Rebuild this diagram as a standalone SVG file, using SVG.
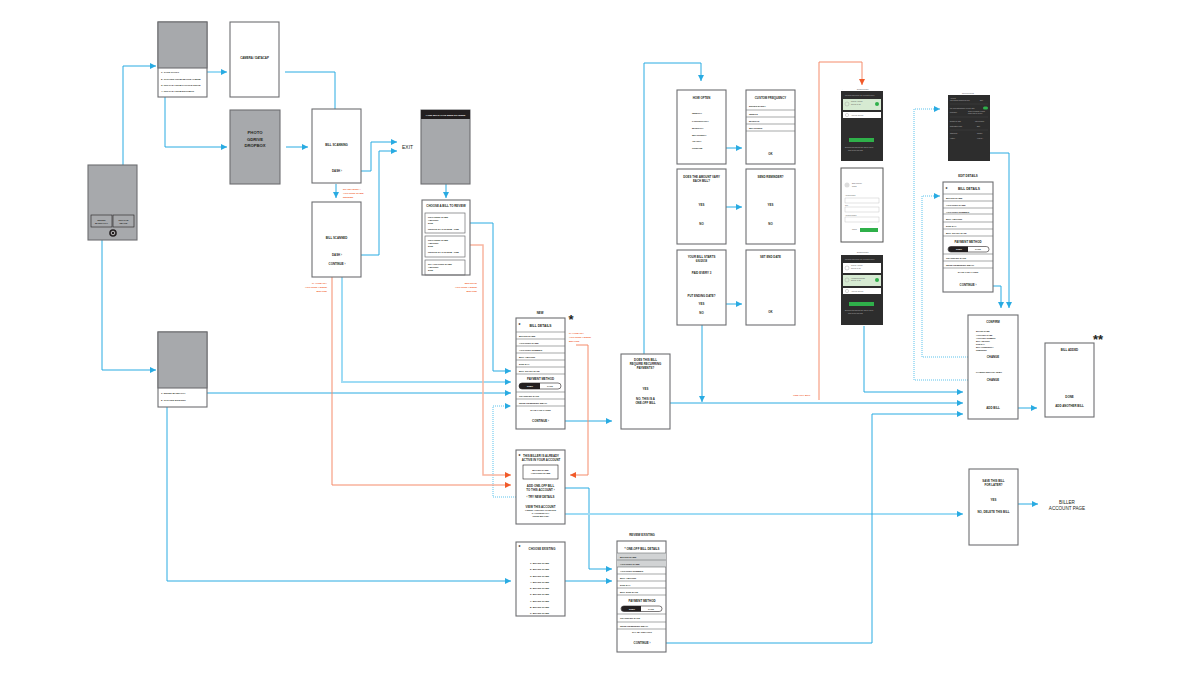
<svg xmlns="http://www.w3.org/2000/svg" width="1200" height="674" viewBox="0 0 1200 674">
<defs>
<style>
.box{fill:#fff;stroke:#6d6e71;stroke-width:1.1}
.gbox{fill:#a7a9ac;stroke:#6d6e71;stroke-width:1.1}
.row{stroke:#6d6e71;stroke-width:0.6}
.t{font-family:"Liberation Sans",Arial,sans-serif;font-weight:bold;fill:#231f20}
.r{font-family:"Liberation Sans",Arial,sans-serif;fill:#231f20}
.c{text-anchor:middle}
.e{text-anchor:end}
.s2{font-size:2.4px}
.s3{font-size:2.9px}
.s4{font-size:3.3px}
.ast{font-family:"Liberation Sans",Arial,sans-serif;font-weight:bold;fill:#231f20;font-size:5px}
.on{fill:#f15a29;font-family:"Liberation Sans",Arial,sans-serif;font-weight:bold;font-size:2.5px}
.ln{fill:none;stroke:#29abe2;stroke-width:1}
.lt{fill:none;stroke:#9fdcf5;stroke-width:2}
.dot{fill:none;stroke:#5cc3ec;stroke-width:1;stroke-dasharray:1 1}
.or{fill:none;stroke:#f58b6a;stroke-width:1}
.orl{fill:none;stroke:#f9b5a0;stroke-width:1.5}
.dk{fill:#2d2d2d}
.gc{fill:#d6ead2}
.gb{fill:#2fb04a}
.wt{fill:#fff}
.st{font-family:"Liberation Sans",Arial,sans-serif;font-size:1.6px;fill:#bbb}
.sd{font-family:"Liberation Sans",Arial,sans-serif;font-size:1.6px;fill:#555}
</style>
<marker id="ab" markerUnits="userSpaceOnUse" markerWidth="6" markerHeight="6" refX="6" refY="3" orient="auto"><path d="M0,0 L6,3 L0,6 z" fill="#29abe2"/></marker>
<marker id="ao" markerUnits="userSpaceOnUse" markerWidth="6" markerHeight="6" refX="6" refY="3" orient="auto"><path d="M0,0 L6,3 L0,6 z" fill="#f15a29"/></marker>
</defs>
<rect width="1200" height="674" fill="#fff"/>

<!-- connectors -->
<g id="connectors">
<path class="ln" d="M123,212 V66 H156" marker-end="url(#ab)"/>
<path class="ln" d="M102,240 V370 H156" marker-end="url(#ab)"/>
<path class="lt" d="M189,72 H227" marker-end="url(#ab)"/>
<path class="ln" d="M165,97 V147 H227" marker-end="url(#ab)"/>
<path class="ln" d="M285,72 H335 V117" marker-end="url(#ab)"/>
<path class="ln" d="M286,147 H308" marker-end="url(#ab)"/>
<path class="ln" d="M336,184 V198" marker-end="url(#ab)"/>
<path class="ln" d="M348,171 H371 V142 H397" marker-end="url(#ab)"/>
<path class="ln" d="M348,255 H379 V151 H397" marker-end="url(#ab)"/>
<path class="ln" d="M446,119 V198" marker-end="url(#ab)"/>
<path class="ln" d="M459,223 H493 V371 H511" marker-end="url(#ab)"/>
<path class="lt" d="M342,268 V382 H511" marker-end="url(#ab)"/>
<path class="ln" d="M195,393 H511" marker-end="url(#ab)"/>
<path class="ln" d="M167,407 V581 H511" marker-end="url(#ab)"/>
<path class="dot" d="M520,497 H493 V406 H511" marker-end="url(#ab)"/>
<path class="ln" d="M557,421 H612" marker-end="url(#ab)"/>
<path class="ln" d="M561,488 H589 V569 H612" marker-end="url(#ab)"/>
<path class="lt" d="M561,514 H963" marker-end="url(#ab)"/>
<path class="ln" d="M554,581 H612" marker-end="url(#ab)"/>
<path class="ln" d="M644,385 V63 H701 V81" marker-end="url(#ab)"/>
<path class="ln" d="M659,403 H963" marker-end="url(#ab)"/>
<path class="ln" d="M702,318 V402" marker-end="url(#ab)"/>
<path class="ln" d="M708,148 H742" marker-end="url(#ab)"/>
<path class="ln" d="M708,207 H742" marker-end="url(#ab)"/>
<path class="ln" d="M708,304 H742" marker-end="url(#ab)"/>
<path class="ln" d="M663,643 H872 V414 H963" marker-end="url(#ab)"/>
<path class="ln" d="M864,326 V392 H963" marker-end="url(#ab)"/>
<path class="ln" d="M990,153 H1009 V308" marker-end="url(#ab)"/>
<path class="ln" d="M985,286 H1001 V308" marker-end="url(#ab)"/>
<path class="ln" d="M1010,408 H1037" marker-end="url(#ab)"/>
<path class="ln" d="M1013,504 H1038" marker-end="url(#ab)"/>
<path class="dot" d="M980,357 H922 V196 H940" marker-end="url(#ab)"/>
<path class="dot" d="M980,380 H914 V109 H940" marker-end="url(#ab)"/>
<path class="or" d="M332,268 V485 H511" marker-end="url(#ao)"/>
<path class="orl" d="M459,245 H483 V475 H511" marker-end="url(#ao)"/>
<path class="or" d="M576,345 H588 V475 H570" marker-end="url(#ao)"/>
<path class="or" d="M819,400 V62 H862 V85" marker-end="url(#ao)"/>
</g>

<!-- entry screen -->
<g id="entry">
<rect class="gbox" x="88" y="165" width="49" height="75"/>
<rect x="91" y="215" width="21" height="12" fill="#a7a9ac" stroke="#231f20" stroke-width="0.6"/>
<rect x="113" y="215" width="21" height="12" fill="#a7a9ac" stroke="#231f20" stroke-width="0.6"/>
<text class="t s2 c" x="101.5" y="220.5">ENTER</text>
<text class="t s2 c" x="101.5" y="224">MANUALLY</text>
<text class="t s2 c" x="123.5" y="220.5">UPLOAD</text>
<text class="t s2 c" x="123.5" y="224">IMAGE</text>
<circle cx="113" cy="233" r="3.8" fill="#231f20"/>
<circle cx="113" cy="233" r="1.8" fill="none" stroke="#fff" stroke-width="0.7"/>
</g>

<!-- upload options -->
<g id="upload-menu">
<rect class="box" x="158" y="22" width="49" height="75"/>
<rect class="gbox" x="158" y="22" width="49" height="46"/>
<text class="t s2" x="161" y="73">1. TAKE PHOTO</text>
<text class="t s2" x="161" y="80">2. CHOOSE FROM DEVICE ALBUM</text>
<text class="t s2" x="161" y="86">3. UPLOAD FROM GOOGLE DRIVE</text>
<text class="t s2" x="161" y="92">4. UPLOAD FROM DROPBOX</text>
</g>

<g id="camera">
<rect class="box" x="230" y="22" width="49" height="75"/>
<text class="t s3 c" x="254.5" y="59">CAMERA / DATACAP</text>
</g>

<g id="photo-source">
<rect class="gbox" x="230" y="110" width="50" height="74"/>
<text class="t c" font-size="4.2" x="255" y="134">PHOTO</text>
<text class="t c" font-size="4.2" x="255" y="140.5">GDRIVE</text>
<text class="t c" font-size="4.2" x="255" y="147">DROPBOX</text>
</g>

<g id="bill-scanning">
<rect class="box" x="312" y="109" width="49" height="74"/>
<text class="t s3 c" x="336.5" y="146">BILL SCANNING</text>
<text class="t s3 c" x="337" y="172">DASH ›</text>
<text class="on" x="343" y="189.5">NO READING /</text>
<text class="on" x="343" y="193.5">ACCOUNT NAME</text>
<text class="on" x="343" y="197.5">NEEDED</text>
</g>

<g id="bill-scanned">
<rect class="box" x="312" y="202" width="49" height="75"/>
<text class="t s3 c" x="336.5" y="239">BILL SCANNED</text>
<text class="t s3 c" x="337" y="256">DASH ›</text>
<text class="t s3 c" x="337" y="265">CONTINUE ›</text>
<text class="on e" x="327" y="283.5">IF ALREADY</text>
<text class="on e" x="327" y="287.5">ACCOUNT ADDED</text>
<text class="on e" x="327" y="291.5">BEFORE</text>
</g>

<g id="exit">
<text class="r" font-size="5" x="402" y="149">EXIT</text>
</g>

<g id="scan-result">
<rect class="gbox" x="421" y="110" width="49" height="74"/>
<rect x="421" y="110" width="49" height="9" fill="#231f20"/>
<text class="t c" font-size="2.3" style="fill:#fff" x="445.5" y="115.8">YOUR BILLS HAVE BEEN SCANNED</text>
</g>

<g id="choose-bill">
<rect class="box" x="422" y="200" width="48" height="75"/>
<text class="t s3 c" x="446" y="206.5">CHOOSE A BILL TO REVIEW</text>
<rect x="425" y="213" width="40" height="20" fill="none" stroke="#6d6e71" stroke-width="0.7"/>
<text class="t s2" x="428" y="217.5">PROVIDER NAME</text>
<text class="t s2" x="428" y="220.5">AMOUNT</text>
<text class="t s2" x="428" y="223.5">DUE</text>
<text class="t s2" x="428" y="229.5">PERIOD 01 JAN 2018 - FEB</text>
<rect x="425" y="236" width="40" height="21" fill="none" stroke="#6d6e71" stroke-width="0.7"/>
<text class="t s2" x="428" y="240.5">PROVIDER NAME</text>
<text class="t s2" x="428" y="243.5">AMOUNT</text>
<text class="t s2" x="428" y="246.5">DUE</text>
<text class="t s2" x="428" y="253">PERIOD 01 JAN 2018 - FEB</text>
<rect x="425" y="260" width="40" height="15" fill="none" stroke="#6d6e71" stroke-width="0.7"/>
<text class="t s2" x="428" y="264.5">NO ACCOUNT NAME</text>
<text class="t s2" x="428" y="267.5">AMOUNT</text>
<text class="t s2" x="428" y="271">DUE</text>
<text class="on e" x="477" y="283.5">MULTIPLE</text>
<text class="on e" x="477" y="287.5">ACCOUNT ADDED</text>
<text class="on e" x="477" y="291.5">BEFORE</text>
</g>

<g id="manual-menu">
<rect class="box" x="158" y="332" width="49" height="75"/>
<rect class="gbox" x="158" y="332" width="49" height="56"/>
<text class="t s2" x="161" y="394">1. ENTER MANUALLY</text>
<text class="t s2" x="161" y="401">2. CHOOSE EXISTING</text>
</g>

<!-- new bill details -->
<g id="new-bill">
<text class="t s3 c" x="540" y="314">NEW</text>
<text class="t c" font-size="13" x="571" y="324">*</text>
<rect class="box" x="516" y="318" width="49" height="111"/>
<text class="ast" x="518.5" y="327">*</text>
<text class="t s4 c" x="540.5" y="326.5">BILL DETAILS</text>
<path class="row" d="M516,332H565 M516,339H565 M516,346H565 M516,353H565 M516,360H565 M516,367H565 M516,374H565 M516,392H565 M516,399H565 M516,406H565"/>
<text class="t s2" x="519" y="337">BILLER NAME</text>
<text class="t s2" x="519" y="344">ACCOUNT NAME</text>
<text class="t s2" x="519" y="351">ACCOUNT NUMBER</text>
<text class="t s2" x="519" y="358">BILL AMOUNT</text>
<text class="t s2" x="519" y="365">DUE DAY</text>
<text class="t s2" x="519" y="372">BILL START DATE</text>
<text class="t s3 c" x="540.5" y="379.5">PAYMENT METHOD</text>
<rect x="519" y="383" width="42" height="6" rx="3" fill="#fff" stroke="#231f20" stroke-width="0.6"/>
<path d="M522,383 H540 V389 H522 A3,3 0 0 1 522,383 z" fill="#231f20"/>
<text class="t c" font-size="2" style="fill:#fff" x="530" y="386.8">DEBIT</text>
<text class="t c" font-size="2" x="550" y="386.8">CARD</text>
<text class="t s2" x="519" y="397">TRANSFER DATE</text>
<text class="t s2" x="519" y="404">SEND REMINDER EMAIL</text>
<text class="t s2 c" x="540.5" y="410.5">SAVE FOR LATER</text>
<text class="t s3 c" x="540.5" y="422">CONTINUE ›</text>
<text class="on" x="569" y="334">IF ALREADY</text>
<text class="on" x="569" y="338">ACCOUNT ADDED</text>
<text class="on" x="569" y="342">BEFORE</text>
</g>

<g id="biller-active">
<rect class="box" x="516" y="450" width="49" height="74"/>
<text class="ast" x="518.5" y="458">*</text>
<text class="t s3 c" x="541" y="457">THIS BILLER IS ALREADY</text>
<text class="t s3 c" x="541" y="461">ACTIVE IN YOUR ACCOUNT</text>
<rect x="523" y="465" width="35" height="14" fill="none" stroke="#231f20" stroke-width="0.6"/>
<text class="t s2 c" x="540.5" y="471">BILLER NAME</text>
<text class="t s2 c" x="540.5" y="474">ACCOUNT NAME</text>
<text class="t s3 c" x="540.5" y="486.5">ADD ONE-OFF BILL</text>
<text class="t s3 c" x="540.5" y="491">TO THIS ACCOUNT ›</text>
<text class="t s3 c" x="540.5" y="498">‹ TRY NEW DETAILS</text>
<text class="t s3 c" x="540.5" y="507.5">VIEW THIS ACCOUNT</text>
<text class="t c" font-size="2" x="540.5" y="511.2">(AMEND A SETTING OR DELETE</text>
<text class="t c" font-size="2" x="540.5" y="514">IF ACCIDENTALLY</text>
<text class="t c" font-size="2" x="540.5" y="516.8">ADDED BEFORE)</text>
</g>

<g id="choose-existing">
<rect class="box" x="516" y="542" width="49" height="74"/>
<text class="ast" x="518.5" y="549">*</text>
<text class="t s3 c" x="542" y="549.5">CHOOSE EXISTING</text>
<text class="t s2" x="530" y="564">1. BILLER NAME</text>
<text class="t s2" x="530" y="570">2. BILLER NAME</text>
<text class="t s2" x="530" y="576.5">3. BILLER NAME</text>
<text class="t s2" x="530" y="582.5">4. BILLER NAME</text>
<text class="t s2" x="530" y="588.5">5. BILLER NAME</text>
<text class="t s2" x="530" y="595">6. BILLER NAME</text>
<text class="t s2" x="530" y="601.5">7. BILLER NAME</text>
<text class="t s2" x="530" y="607.5">8. BILLER NAME</text>
<text class="t s2" x="530" y="614">9. BILLER NAME</text>
</g>

<g id="review-existing">
<text class="t s3 c" x="642" y="535.5">REVIEW EXISTING</text>
<rect class="box" x="617" y="541" width="49" height="111"/>
<text class="t s3 c" x="642" y="549.5">* ONE-OFF BILL DETAILS</text>
<rect x="617" y="553" width="49" height="14" fill="#d1d3d4"/>
<path class="row" d="M617,553H666 M617,560H666 M617,567H666 M617,574H666 M617,581H666 M617,588H666 M617,595H666 M617,614H666 M617,622H666 M617,629H666"/>
<text class="t s2" x="620" y="558">BILLER NAME</text>
<text class="t s2" x="620" y="565">ACCOUNT NAME</text>
<text class="t s2" x="620" y="572">ACCOUNT NUMBER</text>
<text class="t s2" x="620" y="579">BILL AMOUNT</text>
<text class="t s2" x="620" y="586">DUE DAY</text>
<text class="t s2" x="620" y="593">BILL DUE DATE</text>
<text class="t s3 c" x="642" y="601.5">PAYMENT METHOD</text>
<rect x="621" y="606" width="41" height="5.5" rx="2.75" fill="#fff" stroke="#231f20" stroke-width="0.6"/>
<path d="M624,606 H641 V611.5 H624 A2.75,2.75 0 0 1 624,606 z" fill="#231f20"/>
<text class="t c" font-size="2" style="fill:#fff" x="632" y="609.5">DEBIT</text>
<text class="t c" font-size="2" x="651" y="609.5">CARD</text>
<text class="t s2" x="620" y="619">TRANSFER DATE</text>
<text class="t s2" x="620" y="626.5">SEND REMINDER EMAIL</text>
<text class="t s2 c" x="642" y="633">SAY BY DEFAULT</text>
<text class="t s3 c" x="642" y="644">CONTINUE ›</text>
</g>

<g id="recurring">
<rect class="box" x="621" y="354" width="49" height="75"/>
<text class="t s3 c" x="645.5" y="361">DOES THIS BILL</text>
<text class="t s3 c" x="645.5" y="365">REQUIRE RECURRING</text>
<text class="t s3 c" x="645.5" y="369">PAYMENTS?</text>
<text class="t s3 c" x="645.5" y="389.5">YES</text>
<text class="t s3 c" x="645.5" y="399.5">NO, THIS IS A</text>
<text class="t s3 c" x="645.5" y="404">ONE-OFF BILL</text>
</g>

<g id="how-often">
<rect class="box" x="677" y="90" width="49" height="74"/>
<text class="t s3 c" x="701.5" y="99">HOW OFTEN</text>
<text class="t s2" x="692" y="114">WEEKLY</text>
<text class="t s2" x="692" y="121.5">FORTNIGHTLY</text>
<text class="t s2" x="692" y="128.5">MONTHLY</text>
<text class="t s2" x="692" y="135.5">QUARTERLY</text>
<text class="t s2" x="692" y="142">YEARLY</text>
<text class="t s2" x="692" y="149">CUSTOM</text>
</g>

<g id="custom-frequency">
<rect class="box" x="746" y="90" width="49" height="74"/>
<text class="t s3 c" x="770.5" y="99">CUSTOM FREQUENCY</text>
<text class="t s2" x="749" y="106.5">ENTER EVERY</text>
<path class="row" d="M746,110H795 M746,117H795 M746,124H795 M746,131H795"/>
<text class="t s2" x="749" y="114.5">WEEKS</text>
<text class="t s2" x="749" y="121.5">MONTHS</text>
<text class="t s2" x="749" y="128.5">QUARTERS</text>
<text class="t s3 c" x="770.5" y="155">OK</text>
</g>

<g id="amount-vary">
<rect class="box" x="677" y="169" width="49" height="75"/>
<text class="t s3 c" x="701.5" y="177.5">DOES THE AMOUNT VARY</text>
<text class="t s3 c" x="701.5" y="181.5">EACH BILL?</text>
<text class="t s3 c" x="701.5" y="206">YES</text>
<text class="t s3 c" x="701.5" y="225">NO</text>
</g>

<g id="send-reminder">
<rect class="box" x="746" y="169" width="49" height="75"/>
<text class="t s3 c" x="770.5" y="178">SEND REMINDER?</text>
<text class="t s3 c" x="770.5" y="206">YES</text>
<text class="t s3 c" x="770.5" y="225">NO</text>
</g>

<g id="bill-start">
<rect class="box" x="677" y="250" width="49" height="75"/>
<text class="t s3 c" x="701.5" y="258">YOUR BILL STARTS</text>
<text class="t s3 c" x="701.5" y="262">6/6/2018</text>
<text class="t s3 c" x="701.5" y="274">PAID EVERY 3</text>
<text class="t s3 c" x="701.5" y="297">PUT ENDING DATE?</text>
<text class="t s3 c" x="701.5" y="305">YES</text>
<text class="t s3 c" x="701.5" y="314">NO</text>
</g>

<g id="set-end-date">
<rect class="box" x="746" y="250" width="49" height="75"/>
<text class="t s3 c" x="770.5" y="258">SET END DATE</text>
<text class="t s3 c" x="770.5" y="313">OK</text>
</g>

<g id="one-off-note">
<text class="on" x="793" y="396">ONE-OFF BILL</text>
</g>

<!-- payment method screens -->
<g id="method-screen-1">
<text class="sd" x="842" y="89.5">‹</text>
<text class="sd" x="857" y="89.5">Existing Method</text>
<rect class="dk" x="841" y="91" width="42" height="70"/>
<text class="st" x="845" y="96">Payment from where do you want to pay?</text>
<rect class="gc" x="843" y="99" width="38" height="11"/>
<circle cx="847" cy="104" r="2" fill="none" stroke="#999" stroke-width="0.4"/>
<text class="sd" x="851" y="102">Current Account</text>
<text class="sd" x="851" y="104.5">Sort 12-34-56</text>
<circle cx="877" cy="104" r="2" class="gb"/>
<rect class="wt" x="843" y="112" width="38" height="6"/>
<circle cx="847" cy="115" r="1.6" fill="none" stroke="#999" stroke-width="0.4"/>
<text class="sd" x="851" y="115.6">Add new account</text>
<rect class="gb" x="849" y="138" width="25" height="4"/>
<text class="st" x="845" y="148">Bills from this account are paid by direct</text>
<text class="st" x="848" y="150.5">debit on the due date</text>
</g>

<g id="method-screen-2">
<rect x="841" y="168" width="42" height="74" fill="#fff" stroke="#555" stroke-width="1"/>
<circle cx="847" cy="185" r="2.5" fill="#ddd"/>
<text class="sd" x="852" y="184">Bank account</text>
<text class="sd" x="852" y="186.5">details</text>
<text class="sd" x="845" y="196">Account holder</text>
<rect x="845" y="198" width="34" height="5" fill="none" stroke="#bbb" stroke-width="0.4"/>
<text class="sd" x="845" y="206">Sort</text>
<rect x="845" y="207" width="34" height="5" fill="none" stroke="#bbb" stroke-width="0.4"/>
<text class="sd" x="845" y="216">Account number</text>
<rect x="845" y="217" width="34" height="5" fill="none" stroke="#bbb" stroke-width="0.4"/>
<text class="sd" x="852" y="230">Cancel</text>
<rect class="gb" x="860" y="228" width="18" height="4"/>
</g>

<g id="method-screen-3">
<text class="sd" x="842" y="253">‹</text>
<text class="sd" x="857" y="253">Existing Method</text>
<rect class="dk" x="841" y="255" width="42" height="70"/>
<text class="st" x="845" y="259.5">Payment from where do you want to pay?</text>
<rect class="wt" x="843" y="263" width="38" height="10"/>
<circle cx="847" cy="268" r="2" fill="none" stroke="#999" stroke-width="0.4"/>
<text class="sd" x="851" y="266">Current Account</text>
<text class="sd" x="851" y="268.5">Sort 12-34-56</text>
<rect class="gc" x="843" y="275" width="38" height="11"/>
<circle cx="847" cy="280" r="2" fill="none" stroke="#999" stroke-width="0.4"/>
<text class="sd" x="851" y="278.5">Household Savings</text>
<text class="sd" x="851" y="281">Sort 65-43-21</text>
<circle cx="877" cy="280" r="2" class="gb"/>
<rect class="wt" x="843" y="288" width="38" height="6"/>
<circle cx="847" cy="291" r="1.6" fill="none" stroke="#999" stroke-width="0.4"/>
<text class="sd" x="851" y="291.6">Add new account</text>
<rect class="gb" x="849" y="302" width="25" height="4"/>
<text class="st" x="845" y="311">Bills from this account are paid by direct</text>
<text class="st" x="848" y="313.5">debit on the due date</text>
</g>

<g id="saved-payments">
<text class="sd" x="949" y="94">‹</text>
<text class="sd" x="962" y="94">Saved payments</text>
<rect class="dk" x="948" y="95" width="42" height="66"/>
<text class="st" x="950" y="99">Account</text>
<text class="st" x="950" y="101">Use default account for bills</text>
<text class="st" x="980" y="100.5">Edit ›</text>
<path d="M950,104 H988 M950,117 H988 M950,130 H988" stroke="#555" stroke-width="0.3"/>
<text class="st" x="950" y="108.5">Pay bills automatically on due date</text>
<rect x="983" y="106.5" width="5" height="3" rx="1.5" class="gb"/>
<text class="st" x="950" y="113">Reminder</text>
<text class="st" x="968" y="112">Send a reminder 3 days</text>
<text class="st" x="968" y="114">before the bill is due</text>
<text class="st" x="950" y="122">Default bill date</text>
<text class="st" x="975" y="122">1st of month ›</text>
<text class="st" x="950" y="127">Notification email</text>
<text class="st" x="977" y="127">Edit ›</text>
<text class="st" x="950" y="134">Statement</text>
<text class="st" x="977" y="134">Monthly</text>
<text class="st" x="950" y="139">History</text>
<text class="st" x="977" y="139">View all ›</text>
</g>

<g id="edit-details">
<text class="t s3 c" x="968" y="176.5">EDIT DETAILS</text>
<rect class="box" x="943" y="182" width="50" height="110"/>
<text class="ast" x="945.5" y="190.5">*</text>
<text class="t s4 c" x="969" y="190">BILL DETAILS</text>
<path class="row" d="M943,194H993 M943,201H993 M943,208H993 M943,214H993 M943,222H993 M943,229H993 M943,236H993 M943,254H993 M943,261H993 M943,268H993"/>
<text class="t s2" x="946" y="199">BILLER NAME</text>
<text class="t s2" x="946" y="206">ACCOUNT NAME</text>
<text class="t s2" x="946" y="212.5">ACCOUNT NUMBER</text>
<text class="t s2" x="946" y="219.5">BILL AMOUNT</text>
<text class="t s2" x="946" y="227">DUE DAY</text>
<text class="t s2" x="946" y="234">BILL START DATE</text>
<text class="t s3 c" x="968" y="242.5">PAYMENT METHOD</text>
<rect x="948" y="246.5" width="41" height="5.5" rx="2.75" fill="#fff" stroke="#231f20" stroke-width="0.6"/>
<path d="M951,246.5 H968 V252 H951 A2.75,2.75 0 0 1 951,246.5 z" fill="#231f20"/>
<text class="t c" font-size="2" style="fill:#fff" x="959" y="250">DEBIT</text>
<text class="t c" font-size="2" x="978" y="250">CARD</text>
<text class="t s2" x="946" y="259">TRANSFER DATE</text>
<text class="t s2" x="946" y="266">SEND REMINDER EMAIL</text>
<text class="t s2 c" x="968" y="273">SAVE FOR LATER</text>
<text class="t s3 c" x="968" y="285.5">CONTINUE ›</text>
</g>

<g id="confirm">
<rect class="box" x="968" y="315" width="50" height="104"/>
<text class="t s3 c" x="993" y="323">CONFIRM</text>
<text class="t" font-size="2" x="976" y="332">BILLER NAME</text>
<text class="t" font-size="2" x="976" y="335.5">ACCOUNT NAME</text>
<text class="t" font-size="2" x="976" y="338.5">ACCOUNT NUMBER</text>
<text class="t" font-size="2" x="976" y="341.5">BILL AMOUNT</text>
<text class="t" font-size="2" x="976" y="344.5">DUE DAY</text>
<text class="t" font-size="2" x="976" y="347.5">BILL FREQUENCY</text>
<text class="t" font-size="2" x="976" y="350.5">REMINDER</text>
<text class="t s3 c" x="993" y="358">CHANGE</text>
<text class="t" font-size="2" x="976" y="372.5">PAYMENT METHOD: DEBIT</text>
<text class="t s3 c" x="993" y="380.5">CHANGE</text>
<text class="t s3 c" x="993" y="409">ADD BILL</text>
</g>

<g id="bill-added">
<text class="t c" font-size="13" x="1098" y="344">**</text>
<rect class="box" x="1045" y="343" width="49" height="74"/>
<text class="t s3 c" x="1069.5" y="351">BILL ADDED</text>
<text class="t s3 c" x="1069.5" y="398">DONE</text>
<text class="t s3 c" x="1069.5" y="407">ADD ANOTHER BILL</text>
</g>

<g id="save-for-later">
<rect class="box" x="969" y="469" width="49" height="76"/>
<text class="t s3 c" x="993.5" y="482">SAVE THIS BILL</text>
<text class="t s3 c" x="993.5" y="486">FOR LATER?</text>
<text class="t s3 c" x="993.5" y="501">YES</text>
<text class="t s3 c" x="993.5" y="513">NO, DELETE THIS BILL</text>
</g>

<g id="biller-account-page">
<text class="r c" font-size="4.6" x="1067" y="504">BILLER</text>
<text class="r c" font-size="4.6" x="1067" y="510">ACCOUNT PAGE</text>
</g>
</svg>
